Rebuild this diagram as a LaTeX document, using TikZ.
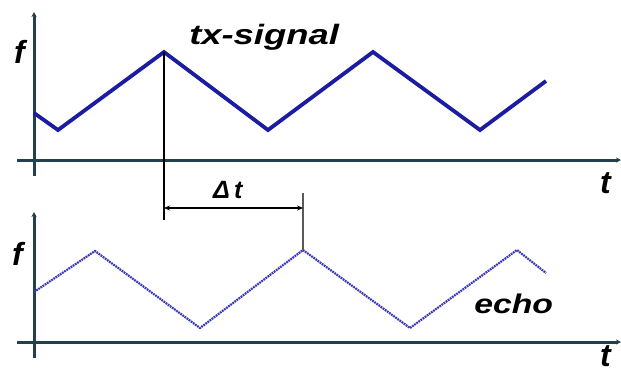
\documentclass[tikz,border=0pt]{standalone}
\usepackage{fontspec}
\setmainfont{Liberation Sans}
\usetikzlibrary{arrows.meta}
\definecolor{axiscol}{HTML}{23404F}
\definecolor{txcol}{HTML}{1C1CA0}
\definecolor{echocol}{HTML}{3A3AB8}
\begin{document}
\begin{tikzpicture}[x=1pt,y=-1pt,
  axis/.style={draw=axiscol,line width=3pt,-{Stealth[length=5pt,width=5pt]}},
  txline/.style={draw=txcol,line width=3.8pt,line join=miter},
  echoline/.style={draw=echocol,line width=2.2pt,dash pattern=on 1.8pt off 0.8pt},
  lbl/.style={font=\bfseries\itshape,inner sep=0pt,anchor=base west},
  marker/.style={draw=black,line width=2.6pt},
  thinmark/.style={draw=gray!70!black,line width=1.6pt},
  dim/.style={draw=black,line width=2.6pt,{Stealth[length=6pt,width=5pt]}-{Stealth[length=6pt,width=5pt]}}]
\useasboundingbox (0,0) rectangle (621,373);
% axes top
\coordinate (ty0) at (34,176);
\coordinate (ty1) at (34,12);
\coordinate (tx0) at (17,160);
\coordinate (tx1) at (621,160);
\draw[axis] (ty0) -- (ty1);
\draw[axis] (tx0) -- (tx1);
% axes bottom
\coordinate (by0) at (34,358);
\coordinate (by1) at (34,212);
\coordinate (bx0) at (17,342);
\coordinate (bx1) at (621,342);
\draw[axis] (by0) -- (by1);
\draw[axis] (bx0) -- (bx1);
% tx signal
\coordinate (s0) at (34,113);
\coordinate (s1) at (58,130);
\coordinate (s2) at (164,52);
\coordinate (s3) at (268,130);
\coordinate (s4) at (373,52);
\coordinate (s5) at (480,130);
\coordinate (s6) at (546,81);
\draw[txline] (s0) -- (s1) -- (s2) -- (s3) -- (s4) -- (s5) -- (s6);
% echo
\coordinate (e0) at (34,292);
\coordinate (e1) at (95,251);
\coordinate (e2) at (200,328);
\coordinate (e3) at (303,250);
\coordinate (e4) at (410,328);
\coordinate (e5) at (517,250);
\coordinate (e6) at (546,273);
\draw[echoline] (e0) -- (e1) -- (e2) -- (e3) -- (e4) -- (e5) -- (e6);
% delta t
\coordinate (m1) at (164,220);
\coordinate (m2) at (303,193);
\coordinate (d0) at (164,208);
\coordinate (d1) at (303,208);
\draw[marker] (s2) -- (m1);
\draw[thinmark] (m2) -- (e3);
\draw[dim] (d0) -- (d1);
% labels
\node[lbl,font=\fontsize{32}{32}\selectfont\bfseries\itshape] (fT) at (14,63) {f};
\node[lbl,font=\fontsize{32}{32}\selectfont\bfseries\itshape] (fB) at (12,265) {f};
\node[lbl,font=\fontsize{32}{32}\selectfont\bfseries\itshape] (tT) at (600,193) {t};
\node[lbl,font=\fontsize{32}{32}\selectfont\bfseries\itshape] (tB) at (600,366) {t};
\node[lbl,font=\fontsize{28}{28}\selectfont\bfseries\itshape,xscale=1.3] (tx) at (189,44) {tx-signal};
\node[lbl,font=\fontsize{27}{27}\selectfont\bfseries\itshape,xscale=1.25] (echo) at (474,313) {echo};
\node[lbl,font=\fontsize{25}{25}\selectfont\bfseries\itshape] (dt) at (213,198) {Δ\,t};
\end{tikzpicture}
\end{document}
